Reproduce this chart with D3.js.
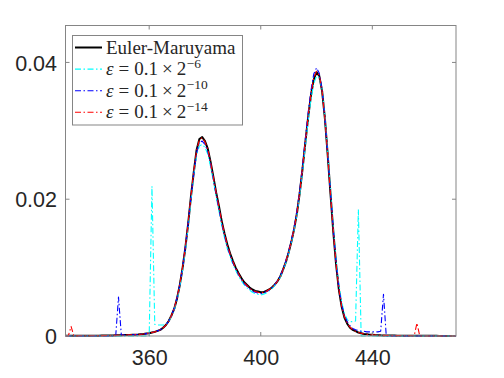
<!DOCTYPE html>
<html>
<head>
    <meta charset="UTF-8" />
    <title></title>
    <script src="https://cdn.jsdelivr.net/npm/d3@7"></script>
    <style>
        body { margin: 0; background: #fff; }
        #chart-area text { fill: #262626; }
    </style>
</head>
<body>
<div id="chart-area"></div>
<script type="text/javascript">
    /**
     * data: density of the state on a grid of 1 unit, 330..470
     */
    var xs = d3.range(330, 471);
    var xTicks = [360, 400, 440];
    var yTicks = [0, 0.02, 0.04];
    var yTickLabels = ['0', '0.02', '0.04'];

    var eulerMaruyama = [
        0.00002,0.00002,0.00002,0.00002,0.00003,0.00003,0.00003,0.00003,0.00004,0.00004,
        0.00004,0.00005,0.00005,0.00006,0.00006,0.00007,0.00008,0.00009,0.0001,0.00011,
        0.00012,0.00013,0.00014,0.00016,0.00018,0.0002,0.00022,0.00026,0.0003,0.00035,
        0.0004,0.0005,0.0006,0.00075,0.0009,0.0012,0.0016,0.0022,0.003,0.004,
        0.0055,0.0075,0.01,0.013,0.0165,0.0205,0.024,0.0272,0.0288,0.0291,
        0.0285,0.0274,0.0255,0.0233,0.021,0.019,0.0168,0.015,0.0134,0.0121,
        0.011,0.01,0.0092,0.0085,0.0079,0.0075,0.0071,0.0068,0.0066,0.0065,
        0.0064,0.0064,0.0066,0.0068,0.0071,0.0075,0.008,0.0087,0.0097,0.0108,
        0.0122,0.0138,0.0157,0.018,0.021,0.0245,0.0283,0.032,0.0352,0.0375,
        0.0386,0.038,0.0358,0.0318,0.0265,0.0208,0.0153,0.0105,0.0068,0.0043,
        0.0027,0.0018,0.0012,0.0009,0.0007,0.0005,0.0004,0.0003,0.00025,0.0002,
        0.00017,0.00014,0.00012,0.0001,0.00009,0.00008,0.00007,0.00006,0.00006,0.00005,
        0.00005,0.00004,0.00004,0.00004,0.00003,0.00003,0.00003,0.00003,0.00002,0.00002,
        0.00002,0.00002,0.00002,0.00002,0.00001,0.00001,0.00001,0.00001,0.00001,0.00001,
        0.00001
    ];
    var eps6 = [
        0,0,0,0,0,0,0,0,0,0,
        0,0,0,0,0,0,0,0,0,0,
        0,0,0,0,0,0,0,0,0,0,
        0,0.0219,0.0017,0.0016,0.0016,0.0016,0.0017,0.0021,0.0029,0.0039,
        0.0053,0.0072,0.0097,0.0126,0.016,0.0198,0.0236,0.0264,0.0278,0.028,
        0.0276,0.0266,0.0248,0.0227,0.0204,0.0183,0.0162,0.0144,0.0128,0.0116,
        0.0105,0.0096,0.0088,0.0081,0.0075,0.0071,0.0067,0.0064,0.0062,0.0061,
        0.006,0.0061,0.0063,0.0066,0.0069,0.0074,0.0079,0.0086,0.0096,0.0107,
        0.0121,0.0137,0.0156,0.0178,0.0207,0.0241,0.0278,0.0314,0.0346,0.0369,
        0.038,0.0378,0.036,0.0322,0.027,0.0214,0.016,0.0112,0.0076,0.005,
        0.0033,0.0024,0.0021,0.0021,0.0022,0.0185,0,0,0,0,
        0,0,0,0,0,0,0,0,0,0,
        0,0,0,0,0,0,0,0,0,0,
        0,0,0,0,0,0,0,0,0,0,
        0
    ];
    var eps10 = [
        0,0,0,0,0,0,0,0,0,0,
        0,0,0,0,0,0,0,0,0,0.0057,
        0.0002,0.00013,0.00014,0.00016,0.00018,0.0002,0.00022,0.00026,0.0003,0.00035,
        0.0004,0.0005,0.0006,0.00075,0.0009,0.0012,0.0016,0.0022,0.003,0.0041,
        0.0056,0.0076,0.0101,0.0131,0.0166,0.0204,0.0238,0.0268,0.0283,0.0285,
        0.028,0.027,0.0252,0.023,0.0207,0.0186,0.0165,0.0147,0.0131,0.0118,
        0.0107,0.0098,0.009,0.0083,0.0077,0.0073,0.0069,0.0066,0.0064,0.0063,
        0.0062,0.0063,0.0065,0.0067,0.0071,0.0075,0.0081,0.0088,0.0098,0.011,
        0.0124,0.0141,0.016,0.0184,0.0214,0.025,0.0289,0.0327,0.0359,0.0383,
        0.0392,0.0384,0.036,0.0319,0.0266,0.021,0.0156,0.0108,0.0071,0.0046,
        0.003,0.0021,0.0015,0.0011,0.0009,0.0008,0.0007,0.0007,0.0006,0.0006,
        0.0006,0.0006,0.0006,0.0007,0.0061,0,0,0,0,0,
        0,0,0,0,0,0,0,0,0,0,
        0,0,0,0,0,0,0,0,0,0,
        0
    ];
    var eps14 = [
        0,0,0.0014,0,0.00002,0.00003,0.00003,0.00003,0.00004,0.00004,
        0.00004,0.00005,0.00005,0.00006,0.00006,0.00007,0.00008,0.00009,0.0001,0.00011,
        0.00012,0.00013,0.00014,0.00016,0.00018,0.0002,0.00022,0.00026,0.0003,0.00035,
        0.0004,0.0005,0.0006,0.00075,0.0009,0.0012,0.0016,0.0022,0.003,0.0041,
        0.0056,0.0076,0.0101,0.0131,0.0166,0.0205,0.0241,0.0271,0.0287,0.029,
        0.0284,0.0273,0.0254,0.0232,0.0209,0.0189,0.0167,0.0149,0.0133,0.012,
        0.0109,0.0099,0.0091,0.0084,0.0078,0.0074,0.007,0.0067,0.0065,0.0064,
        0.0063,0.0064,0.0065,0.0068,0.0071,0.0075,0.008,0.0087,0.0097,0.0109,
        0.0123,0.0139,0.0158,0.0181,0.0211,0.0247,0.0285,0.0322,0.0354,0.0377,
        0.0387,0.0381,0.0358,0.0318,0.0265,0.0208,0.0154,0.0106,0.0069,0.0044,
        0.0028,0.0019,0.0013,0.0009,0.0007,0.0005,0.0004,0.0003,0.00025,0.0002,
        0.00017,0.00014,0.00012,0.0001,0.00009,0.00008,0.00007,0.00006,0.00006,0.00005,
        0.00005,0.00004,0.00004,0.00004,0.00003,0,0.0019,0,0,0,
        0,0,0,0,0,0,0,0,0,0,
        0
    ];

    var seriesNames = ['Euler-Maruyama', 'eps6', 'eps10', 'eps14'];
    var seriesExps = [null, '\u22126', '\u221210', '\u221214'];
    var seriesValues = [eulerMaruyama, eps6, eps10, eps14];
    var seriesColors = ['#000000', '#00ffff', '#0000ff', '#ff0000'];

    var width = 504, height = 378;
    var padL = 65.5, padR = 456, padT = 25.5, padB = 336;
    var axisColor = '#858585';

    var svg = d3.select('#chart-area').append('svg')
        .attr('width', width).attr('height', height);

    var x = d3.scaleLinear().domain([330, 470]).range([padL, padR]);
    var y = d3.scaleLinear().domain([0, 0.0454]).range([padB, padT]);

    svg.append('clipPath').attr('id', 'plot-clip')
        .append('rect').attr('x', padL).attr('y', padT - 2)
        .attr('width', padR - padL).attr('height', padB - padT + 4);

    var line = d3.line()
        .x(function (d, i) { return x(xs[i]); })
        .y(function (d) { return y(d); });

    function styleLine(sel, i) {
        sel.attr('fill', 'none')
            .attr('stroke', seriesColors[i])
            .attr('stroke-width', i === 0 ? 2 : 1.1)
            .attr('stroke-linejoin', 'round');
        if (i > 0) sel.attr('stroke-dasharray', '6,2.5,1.5,2.5');
    }

    var plot = svg.append('g').attr('clip-path', 'url(#plot-clip)');
    seriesValues.forEach(function (vals, i) {
        plot.append('path').datum(vals).attr('d', line).call(styleLine, i);
    });

    // axes box with ticks on all four sides, pointing inward
    var axX = d3.axisBottom(x).tickValues(xTicks).tickSize(0).tickFormat(d3.format('d'));
    var axY = d3.axisLeft(y).tickValues(yTicks).tickSize(0)
        .tickFormat(function (d, i) { return yTickLabels[i]; });

    var gx = svg.append('g').attr('transform', 'translate(0,' + padB + ')').call(axX);
    gx.select('.domain').remove();
    gx.selectAll('text').attr('dy', 0).attr('y', 29)
        .style('font-family', '"Liberation Sans", Arial, sans-serif').style('font-size', '21.5px');

    var gy = svg.append('g').attr('transform', 'translate(' + padL + ',0)').call(axY);
    gy.select('.domain').remove();
    gy.selectAll('text').attr('x', -8.5).attr('dy', '0.36em')
        .style('font-family', '"Liberation Sans", Arial, sans-serif').style('font-size', '21.5px');

    var ticks = svg.append('g').attr('stroke', axisColor).attr('stroke-width', 1);
    xTicks.forEach(function (t) {
        ticks.append('line').attr('x1', x(t)).attr('x2', x(t)).attr('y1', padB).attr('y2', padB - 4);
        ticks.append('line').attr('x1', x(t)).attr('x2', x(t)).attr('y1', padT).attr('y2', padT + 4);
    });
    yTicks.forEach(function (t) {
        ticks.append('line').attr('x1', padL).attr('x2', padL + 4).attr('y1', y(t)).attr('y2', y(t));
        ticks.append('line').attr('x1', padR).attr('x2', padR - 4).attr('y1', y(t)).attr('y2', y(t));
    });
    svg.append('rect').attr('x', padL).attr('y', padT)
        .attr('width', padR - padL).attr('height', padB - padT)
        .attr('fill', 'none').attr('stroke', axisColor).attr('stroke-width', 1);

    // legend
    var lg = svg.append('g');
    lg.append('rect').attr('x', 72.5).attr('y', 35.5).attr('width', 170).attr('height', 89.5)
        .attr('fill', '#fff').attr('stroke', axisColor).attr('stroke-width', 1);
    seriesNames.forEach(function (name, i) {
        var cy = 47.5 + i * 21.6;
        lg.append('line').attr('x1', 75).attr('x2', 102).attr('y1', cy).attr('y2', cy)
            .call(styleLine, i);
        var t = lg.append('text').attr('x', 106).attr('y', cy + 6)
            .style('font-family', '"Liberation Serif", "DejaVu Serif", serif')
            .style('font-size', '19px');
        if (i === 0) {
            t.text(name);
        } else {
            t.append('tspan').style('font-style', 'italic').text('\u03b5');
            t.append('tspan').attr('dx', 5).text('=');
            t.append('tspan').attr('dx', 5).text('0.1');
            t.append('tspan').attr('dx', 4).text('\u00d7');
            t.append('tspan').attr('dx', 4).text('2');
            t.append('tspan').attr('dx', 0.5).attr('dy', -7.5).style('font-size', '13.5px').text(seriesExps[i]);
        }
    });
</script>
</body>
</html>
